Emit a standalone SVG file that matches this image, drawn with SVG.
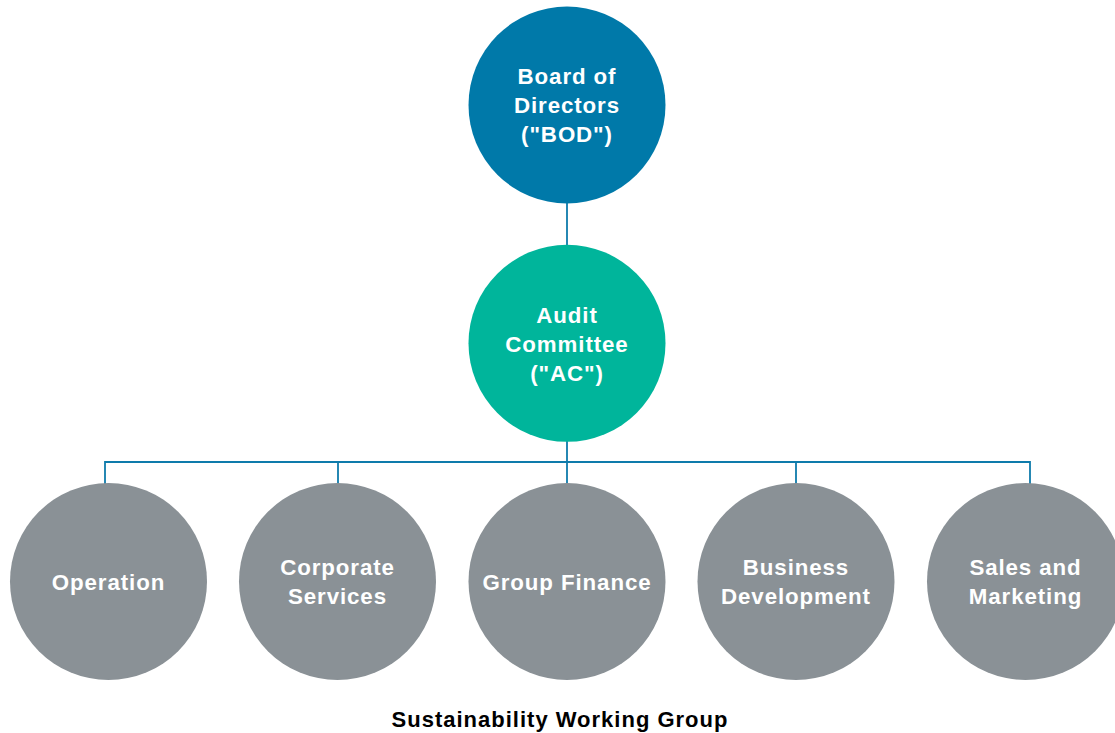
<svg xmlns="http://www.w3.org/2000/svg" width="1115" height="733" viewBox="0 0 1115 733">
  <style>
    .lbl { font-family: "Liberation Sans", Arial, Helvetica, sans-serif; font-weight: bold; font-size: 22.3px; letter-spacing: 0.9px; fill: #ffffff; text-anchor: middle; }
    .cap { font-family: "Liberation Sans", Arial, Helvetica, sans-serif; font-weight: bold; font-size: 22px; letter-spacing: 1px; fill: #000000; text-anchor: middle; }
    .bod { fill: #0079a9; }
    .ac { fill: #00b59b; }
    .unit { fill: #8a9196; }
    .link { stroke: #0e7bab; stroke-width: 1.8; fill: none; }
  </style>
  <rect width="1115" height="733" fill="#ffffff"/>

  <!-- reporting lines -->
  <g id="connectors">
    <line class="link" x1="567" y1="200" x2="567" y2="248"/>
    <line class="link" x1="567" y1="440" x2="567" y2="486"/>
    <line class="link" x1="105" y1="462" x2="1030" y2="462"/>
    <line class="link" x1="105" y1="461.1" x2="105" y2="486"/>
    <line class="link" x1="338" y1="462" x2="338" y2="486"/>
    <line class="link" x1="796" y1="462" x2="796" y2="486"/>
    <line class="link" x1="1030" y1="461.1" x2="1030" y2="486"/>
  </g>

  <g id="bod">
    <circle class="bod" cx="567" cy="105" r="98.5"/>
    <text class="lbl" x="567" y="84">Board of</text>
    <text class="lbl" x="567" y="113">Directors</text>
    <text class="lbl" x="567" y="142">("BOD")</text>
  </g>

  <g id="ac">
    <circle class="ac" cx="567" cy="343.3" r="98.5"/>
    <text class="lbl" x="567" y="322.7">Audit</text>
    <text class="lbl" x="567" y="351.7">Committee</text>
    <text class="lbl" x="567" y="380.7">("AC")</text>
  </g>

  <g id="operation">
    <circle class="unit" cx="108.5" cy="581.5" r="98.5"/>
    <text class="lbl" x="108.5" y="589.5">Operation</text>
  </g>

  <g id="corporate-services">
    <circle class="unit" cx="337.5" cy="581.5" r="98.5"/>
    <text class="lbl" x="337.5" y="575">Corporate</text>
    <text class="lbl" x="337.5" y="604">Services</text>
  </g>

  <g id="group-finance">
    <circle class="unit" cx="567" cy="581.5" r="98.5"/>
    <text class="lbl" x="567" y="589.5">Group Finance</text>
  </g>

  <g id="business-development">
    <circle class="unit" cx="796" cy="581.5" r="98.5"/>
    <text class="lbl" x="796" y="575">Business</text>
    <text class="lbl" x="796" y="604">Development</text>
  </g>

  <g id="sales-marketing">
    <circle class="unit" cx="1025.5" cy="581.5" r="98.5"/>
    <text class="lbl" x="1025.5" y="575">Sales and</text>
    <text class="lbl" x="1025.5" y="604">Marketing</text>
  </g>

  <g id="caption">
    <text class="cap" x="560" y="727">Sustainability Working Group</text>
  </g>
</svg>
